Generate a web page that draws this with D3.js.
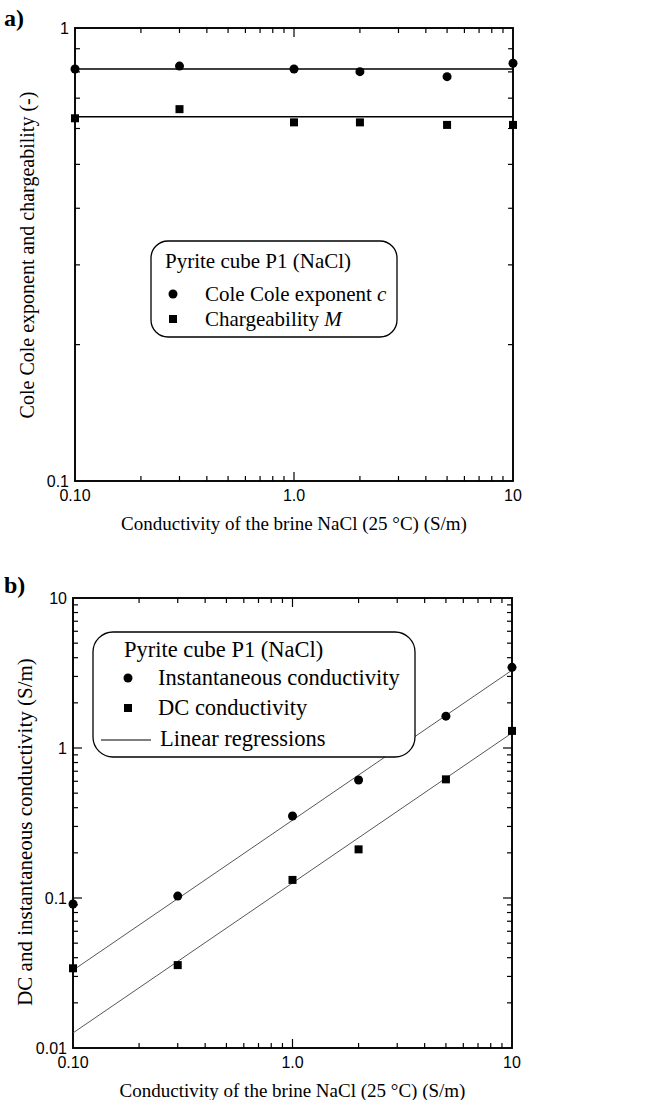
<!DOCTYPE html>
<html><head><meta charset="utf-8">
<script src="https://cdn.jsdelivr.net/npm/d3@7"></script>
<style>
body{margin:0;background:#fff;}
svg{display:block;}
.serif{font-family:"Liberation Serif","Times New Roman",serif;}
.tick{font-family:"Liberation Sans Narrow","Liberation Sans",Arial,sans-serif;}
</style></head>
<body><svg id="c" width="649" height="1100"></svg>
<script>
// ---- data ----
const brine = [0.1, 0.3, 1, 2, 5, 10];
const coleColeC = [0.812, 0.824, 0.812, 0.801, 0.781, 0.836];
const chargeabilityM = [0.632, 0.662, 0.619, 0.619, 0.611, 0.611];
const meanC = 0.812;
const meanM = 0.637;
const instCond = [0.0912, 0.103, 0.352, 0.612, 1.63, 3.45];
const dcCond = [0.034, 0.0357, 0.132, 0.211, 0.618, 1.3];
const regX = [0.1, 10];
const regInst = [0.033, 3.3];
const regDC = [0.0126, 1.26];
const xTickLabels = ["0.10", "1.0", "10"];
const yTickLabelsA = ["0.1", "1"];
const yTickLabelsB = ["0.01", "0.1", "1", "10"];

const svg = d3.select("#c");

function minorTicks(lo, hi){
  const out=[];
  for(let d=lo; d<hi; d*=10){ for(let k=1;k<10;k++){ out.push(+(d*k).toPrecision(3)); } }
  out.push(hi);
  return out;
}
function isMajor(v){ const l=Math.log10(v); return Math.abs(l-Math.round(l))<1e-9; }

function panel(opt){
  const {x0,x1,y0,y1,ydom,yLabels,yVals} = opt;
  const x = d3.scaleLog().domain([0.1,10]).range([x0,x1]);
  const y = d3.scaleLog().domain(ydom).range([y1,y0]);
  const g = svg.append("g");
  const xt = minorTicks(0.1,10);
  const yt = minorTicks(ydom[0],ydom[1]);
  xt.forEach(v=>{
    const L = isMajor(v)?9:5;
    if(v===0.1||v===10) return;
    g.append("line").attr("x1",x(v)).attr("x2",x(v)).attr("y1",y1).attr("y2",y1-L).attr("stroke","#000").attr("stroke-width",1.2);
    g.append("line").attr("x1",x(v)).attr("x2",x(v)).attr("y1",y0).attr("y2",y0+L).attr("stroke","#000").attr("stroke-width",1.2);
  });
  yt.forEach(v=>{
    const L = isMajor(v)?9:5;
    if(v===ydom[0]||v===ydom[1]) return;
    g.append("line").attr("y1",y(v)).attr("y2",y(v)).attr("x1",x0).attr("x2",x0+L).attr("stroke","#000").attr("stroke-width",1.2);
    g.append("line").attr("y1",y(v)).attr("y2",y(v)).attr("x1",x1).attr("x2",x1-L).attr("stroke","#000").attr("stroke-width",1.2);
  });
  g.append("rect").attr("x",x0).attr("y",y0).attr("width",x1-x0).attr("height",y1-y0)
    .attr("fill","none").attr("stroke","#000").attr("stroke-width",1.9);
  [0.1,1,10].forEach((v,i)=>{
    g.append("text").attr("class","tick").attr("x",x(v)).attr("y",y1+20)
      .attr("text-anchor","middle").attr("font-size",16).text(xTickLabels[i]);
  });
  yVals.forEach((v,i)=>{
    g.append("text").attr("class","tick").attr("x",x0-6).attr("y",y(v)+6)
      .attr("text-anchor","end").attr("font-size",16).text(yLabels[i]);
  });
  g.append("text").attr("class","serif").attr("x",(x0+x1)/2).attr("y",y1+49)
    .attr("text-anchor","middle").attr("font-size",19).text("Conductivity of the brine NaCl (25 °C) (S/m)");
  g.append("text").attr("class","serif").attr("transform",`translate(${opt.ytx},${opt.ytc}) rotate(-90)`)
    .attr("text-anchor","middle").attr("font-size",opt.ytfs).text(opt.ytitle);
  g.append("text").attr("class","serif").attr("x",4).attr("y",opt.tagy).attr("font-size",24).attr("font-weight","bold").text(opt.tag);
  return {x,y,g};
}

function circles(g,x,y,xs,ys,r){
  g.selectAll(null).data(xs.map((v,i)=>[v,ys[i]])).enter().append("circle")
    .attr("cx",d=>x(d[0])).attr("cy",d=>y(d[1])).attr("r",r).attr("fill","#000");
}
function squares(g,x,y,xs,ys,s){
  g.selectAll(null).data(xs.map((v,i)=>[v,ys[i]])).enter().append("rect")
    .attr("x",d=>x(d[0])-s/2).attr("y",d=>y(d[1])-s/2).attr("width",s).attr("height",s).attr("fill","#000");
}

// ---- panel a ----
const A = panel({x0:75,x1:513,y0:28,y1:481,ydom:[0.1,1],yLabels:yTickLabelsA,yVals:[0.1,1],
  ytitle:"Cole Cole exponent and chargeability (-)",ytx:34,ytc:255,ytfs:20,tag:"a)",tagy:26});
A.g.append("line").attr("x1",A.x(0.1)).attr("x2",A.x(10)).attr("y1",A.y(meanC)).attr("y2",A.y(meanC)).attr("stroke","#000").attr("stroke-width",1.5);
A.g.append("line").attr("x1",A.x(0.1)).attr("x2",A.x(10)).attr("y1",A.y(meanM)).attr("y2",A.y(meanM)).attr("stroke","#000").attr("stroke-width",1.5);
circles(A.g,A.x,A.y,brine,coleColeC,4.5);
squares(A.g,A.x,A.y,brine,chargeabilityM,8);
{
  const lg = A.g.append("g");
  lg.append("rect").attr("x",151).attr("y",241).attr("width",246).attr("height",96).attr("rx",17)
    .attr("fill","#fff").attr("stroke","#000").attr("stroke-width",1.3);
  lg.append("text").attr("class","serif").attr("x",165).attr("y",268).attr("font-size",21).text("Pyrite cube P1 (NaCl)");
  lg.append("circle").attr("cx",173).attr("cy",294).attr("r",4.5).attr("fill","#000");
  const t1 = lg.append("text").attr("class","serif").attr("x",205).attr("y",301).attr("font-size",21);
  t1.append("tspan").text("Cole Cole exponent ");
  t1.append("tspan").attr("font-style","italic").text("c");
  lg.append("rect").attr("x",169).attr("y",315).attr("width",8).attr("height",8).attr("fill","#000");
  const t2 = lg.append("text").attr("class","serif").attr("x",205).attr("y",326).attr("font-size",21);
  t2.append("tspan").text("Chargeability ");
  t2.append("tspan").attr("font-style","italic").text("M");
}

// ---- panel b ----
const B = panel({x0:73,x1:512,y0:598,y1:1048,ydom:[0.01,10],yLabels:yTickLabelsB,yVals:[0.01,0.1,1,10],
  ytitle:"DC and instantaneous conductivity (S/m)",ytx:32,ytc:832,ytfs:21,tag:"b)",tagy:593});
const line = d3.line().x(d=>B.x(d[0])).y(d=>B.y(d[1]));
B.g.append("path").attr("d",line(regX.map((v,i)=>[v,regInst[i]]))).attr("fill","none").attr("stroke","#444").attr("stroke-width",0.9);
B.g.append("path").attr("d",line(regX.map((v,i)=>[v,regDC[i]]))).attr("fill","none").attr("stroke","#444").attr("stroke-width",0.9);
circles(B.g,B.x,B.y,brine,instCond,4.5);
squares(B.g,B.x,B.y,brine,dcCond,8);
{
  const lg = B.g.append("g");
  lg.append("rect").attr("x",93).attr("y",632).attr("width",322).attr("height",125).attr("rx",20)
    .attr("fill","#fff").attr("stroke","#000").attr("stroke-width",1.3);
  lg.append("text").attr("class","serif").attr("x",124).attr("y",657).attr("font-size",22.5).text("Pyrite cube P1 (NaCl)");
  lg.append("circle").attr("cx",128).attr("cy",678).attr("r",4.5).attr("fill","#000");
  lg.append("text").attr("class","serif").attr("x",158).attr("y",685).attr("font-size",22.5).text("Instantaneous conductivity");
  lg.append("rect").attr("x",124).attr("y",704).attr("width",8).attr("height",8).attr("fill","#000");
  lg.append("text").attr("class","serif").attr("x",158).attr("y",715).attr("font-size",22.5).text("DC conductivity");
  lg.append("line").attr("x1",101).attr("x2",151).attr("y1",740).attr("y2",740).attr("stroke","#000").attr("stroke-width",1);
  lg.append("text").attr("class","serif").attr("x",160).attr("y",746).attr("font-size",22.5).text("Linear regressions");
}
</script></body></html>
